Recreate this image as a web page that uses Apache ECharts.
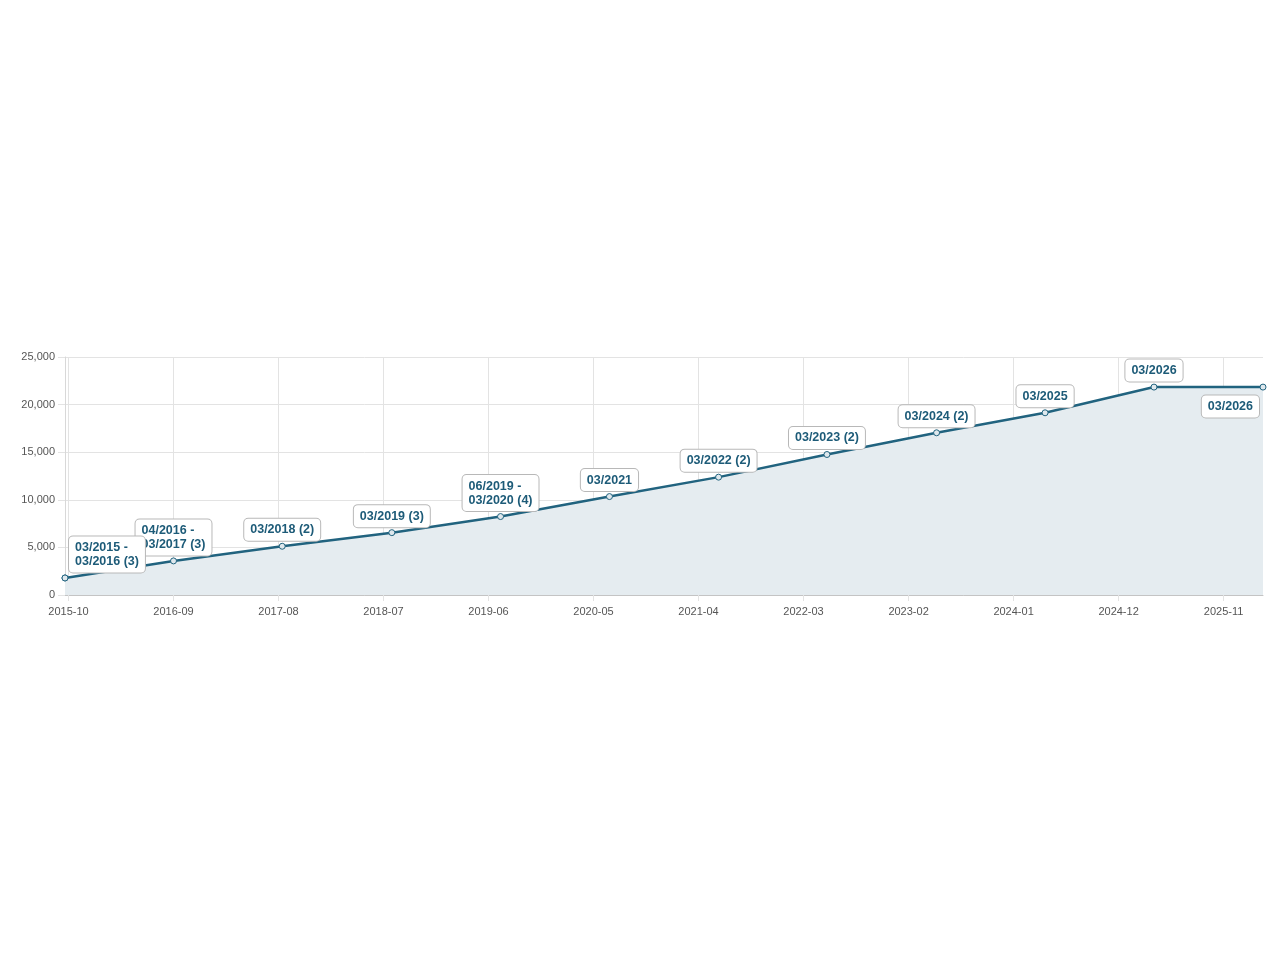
<!DOCTYPE html>
<html>
<head>
<meta charset="utf-8">
<title>Chart</title>
<script src="https://cdn.jsdelivr.net/npm/echarts@6/dist/echarts.min.js"></script>
<style>
  html, body { margin: 0; padding: 0; background: #fff; }
  #main { width: 1280px; height: 960px; }
</style>
</head>
<body>
<div id="main"></div>
<script>
// 数据：每个点的日期、数值和标签
const dates = [
  "2015-09-20", "2016-09-01", "2017-08-13", "2018-07-28", "2019-07-09", "2020-06-21",
  "2021-06-04", "2022-05-15", "2023-04-29", "2024-04-10", "2025-03-23", "2026-03-05",
];
const values = [1790, 3580, 5120, 6550, 8240, 10340, 12380, 14760, 17040, 19140, 21840, 21840];
const pointLabels = [
  "03/2015 -\n03/2016 (3)",
  "04/2016 -\n03/2017 (3)",
  "03/2018 (2)",
  "03/2019 (3)",
  "06/2019 -\n03/2020 (4)",
  "03/2021",
  "03/2022 (2)",
  "03/2023 (2)",
  "03/2024 (2)",
  "03/2025",
  "03/2026",
  "03/2026",
];
const yTicks = [0, 5000, 10000, 15000, 20000, 25000];

// x 轴单位：自 2014-11 起的“11 个月”段，刻度 1 = 2015-10
function toAxis(s) {
  const [y, m, d] = s.split("-").map(Number);
  const dim = new Date(y, m, 0).getDate();
  return ((y - 2014) * 12 + (m - 11) + (d - 1) / dim) / 11;
}
function axisToLabel(v) {
  const m = Math.round(v * 11) + 10;
  const year = 2014 + Math.floor(m / 12);
  const month = (m % 12) + 1;
  return year + "-" + String(month).padStart(2, "0");
}

const lineColor = "#21637f";
const textColor = "#1d5b78";
const gridColor = "#e3e3e3";
const font = "'Liberation Sans', Arial, sans-serif";

const richLabel = {
  t: {
    align: "left",
    fontFamily: font,
    fontSize: 12.5,
    fontWeight: "bold",
    color: textColor,
    lineHeight: 14,
    textBorderWidth: 0,
    textBorderColor: "transparent",
    opacity: 1,
  },
};
const baseLabel = {
  show: true,
  position: "top",
  distance: 2,
  color: textColor,
  opacity: 1,
  textBorderWidth: 0,
  backgroundColor: "#fff",
  borderColor: "#b8b8b8",
  borderWidth: 1,
  borderRadius: 4,
  padding: [4, 6],
  rich: richLabel,
  formatter: (p) => pointLabels[p.dataIndex].split("\n").map((s) => "{t|" + s + "}").join("\n"),
};

const lineData = dates.map((d, i) => {
  const item = { value: [toAxis(d), values[i]] };
  if (i === 0) item.label = { show: false };
  if (i === dates.length - 1) {
    item.label = { position: "bottom", align: "right", offset: [-4, 0], distance: 5 };
  }
  return item;
});

const chart = echarts.init(document.getElementById("main"));

const option = {
  animation: false,
  grid: { left: 65, right: 17, top: 357, bottom: 365 },
  xAxis: {
    type: "value",
    min: "dataMin",
    max: "dataMax",
    splitNumber: 12,
    minInterval: 1,
    maxInterval: 1,
    axisLine: { show: true, lineStyle: { color: "#c4c4c4", width: 1 } },
    axisTick: { show: true, length: 6, lineStyle: { color: gridColor } },
    axisLabel: {
      showMinLabel: false,
      showMaxLabel: false,
      margin: 11,
      color: "#555",
      fontSize: 11,
      fontFamily: font,
      formatter: axisToLabel,
    },
    splitLine: { show: true, showMaxLine: false, lineStyle: { color: gridColor } },
  },
  yAxis: {
    type: "value",
    min: yTicks[0],
    max: yTicks[yTicks.length - 1],
    interval: yTicks[1] - yTicks[0],
    axisLine: { show: true, lineStyle: { color: "#d8d8d8" } },
    axisTick: { show: true, length: 7, lineStyle: { color: gridColor } },
    axisLabel: {
      margin: 10,
      color: "#555",
      fontSize: 11,
      fontFamily: font,
      formatter: (v) => v.toLocaleString("en-US"),
    },
    splitLine: { show: true, lineStyle: { color: gridColor } },
  },
  series: [
    {
      type: "line",
      data: lineData,
      symbol: "circle",
      symbolSize: 6,
      showAllSymbol: true,
      lineStyle: { color: lineColor, width: 2.5 },
      itemStyle: { color: "#dfe8ed", borderColor: lineColor, borderWidth: 1 },
      areaStyle: { color: "#e5ecf0", opacity: 1 },
      label: baseLabel,
      z: 2,
    },
    {
      // 第一个点的标签放在最上层
      type: "scatter",
      silent: true,
      z: 3,
      data: [[toAxis(dates[0]), values[0]]],
      symbol: "circle",
      symbolSize: 6,
      itemStyle: { color: "#dfe8ed", borderColor: lineColor, borderWidth: 1, opacity: 1 },
      label: Object.assign({}, baseLabel, { align: "left", offset: [4, 0] }),
    },
  ],
};

chart.setOption(option);
</script>
</body>
</html>
